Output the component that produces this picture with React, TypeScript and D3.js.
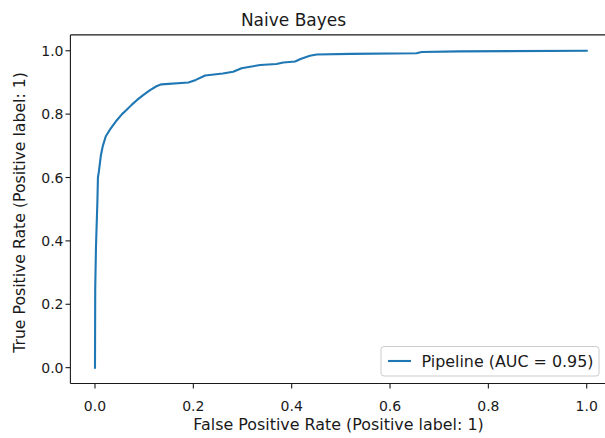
import React from 'react'
import * as d3 from 'd3'

// ROC curve points
const fpr = [0, 0.0005, 0.002, 0.005, 0.006, 0.008, 0.012, 0.016, 0.022, 0.03, 0.044, 0.055, 0.064, 0.075, 0.085, 0.098, 0.112, 0.125, 0.135, 0.19, 0.205, 0.224, 0.26, 0.281, 0.298, 0.336, 0.369, 0.383, 0.407, 0.418, 0.437, 0.451, 0.52, 0.654, 0.664, 0.74, 1.0]
const tpr = [0, 0.25, 0.38, 0.53, 0.6, 0.62, 0.67, 0.7, 0.73, 0.75, 0.78, 0.8, 0.813, 0.83, 0.844, 0.86, 0.876, 0.888, 0.894, 0.9, 0.908, 0.922, 0.928, 0.934, 0.945, 0.955, 0.958, 0.963, 0.966, 0.974, 0.984, 0.988, 0.99, 0.992, 0.996, 0.998, 1.0]
const xTicks = [0, 0.2, 0.4, 0.6, 0.8, 1.0]
const yTicks = [0, 0.2, 0.4, 0.6, 0.8, 1.0]
const title = 'Naive Bayes'
const xLabel = 'False Positive Rate (Positive label: 1)'
const yLabel = 'True Positive Rate (Positive label: 1)'
const legendLabel = 'Pipeline (AUC = 0.95)'

const width = 605
const height = 438
const font = '"DejaVu Sans", sans-serif'
const ink = '#1a1a1a'

export default function App() {
  const left = 70.4
  const right = 611.3
  const top = 34.9
  const bottom = 383.5

  const x = d3.scaleLinear().domain([-0.05, 1.05]).range([left, right])
  const y = d3.scaleLinear().domain([-0.05, 1.05]).range([bottom, top])

  const line = d3.line<number>()
    .x((d, i) => x(fpr[i]))
    .y(d => y(d))

  const tick = 4.9

  return (
    <svg width={width} height={height} style={{ position: 'absolute', left: 0, top: 0, background: '#fff' }} fontFamily={font}>
      <rect x={0} y={0} width={width} height={height} fill="#fff" />
      <path d={line(tpr) || ''} fill="none" stroke="#1f77b4" strokeWidth={2.1} strokeLinejoin="round" strokeLinecap="square" />

      {/* spines */}
      <g stroke={ink} strokeWidth={1.1} fill="none">
        <line x1={left} x2={left} y1={top} y2={bottom} />
        <line x1={left} x2={width} y1={bottom} y2={bottom} />
        <line x1={left} x2={width} y1={top} y2={top} />
      </g>

      {/* x axis */}
      {xTicks.map(t => (
        <g key={'x' + t}>
          <line x1={x(t)} x2={x(t)} y1={bottom} y2={bottom + tick} stroke={ink} strokeWidth={1.1} />
          <text x={x(t)} y={410.5} textAnchor="middle" fontSize={14} fill={ink}>{t.toFixed(1)}</text>
        </g>
      ))}
      {/* y axis */}
      {yTicks.map(t => (
        <g key={'y' + t}>
          <line x1={left - tick} x2={left} y1={y(t)} y2={y(t)} stroke={ink} strokeWidth={1.1} />
          <text x={63.5} y={y(t) + 5} textAnchor="end" fontSize={14} fill={ink}>{t.toFixed(1)}</text>
        </g>
      ))}

      <text x={293.5} y={25.5} textAnchor="middle" fontSize={17} fill={ink}>{title}</text>
      <text x={338.5} y={429.5} textAnchor="middle" fontSize={15.9} fill={ink}>{xLabel}</text>
      <text transform={`translate(25,212.5) rotate(-90)`} textAnchor="middle" fontSize={15.7} fill={ink}>{yLabel}</text>

      {/* legend */}
      <g>
        <rect x={381} y={346.5} width={218} height={29.5} rx={3} fill="#fff" fillOpacity={0.8} stroke="#cccccc" strokeWidth={1} />
        <line x1={388} x2={411} y1={361} y2={361} stroke="#1f77b4" strokeWidth={2.1} />
        <text x={421.5} y={366.5} fontSize={15.9} fill={ink}>{legendLabel}</text>
      </g>
    </svg>
  )
}
